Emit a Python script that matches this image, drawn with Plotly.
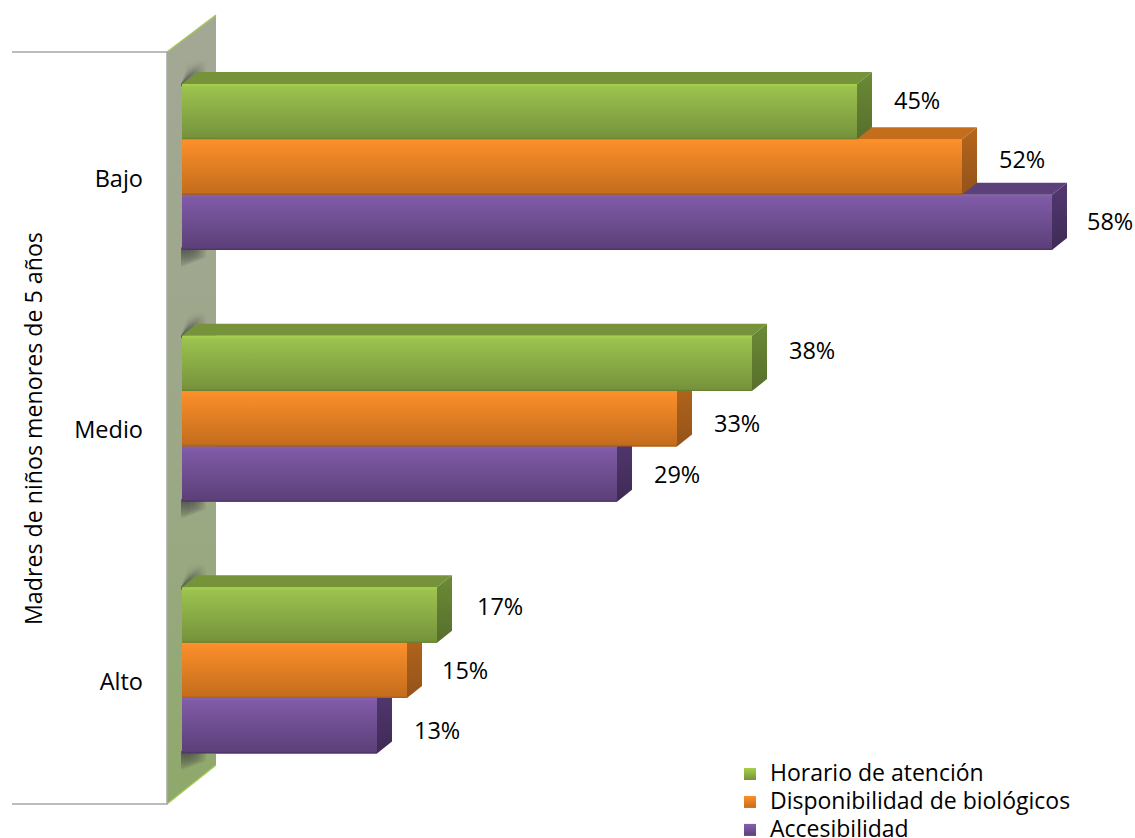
import plotly.graph_objects as go

categories = ["Bajo", "Medio", "Alto"]
series_names = ["Horario de atención", "Disponibilidad de biológicos", "Accesibilidad"]
horario = [45, 38, 17]
disponibilidad = [52, 33, 15]
accesibilidad = [58, 29, 13]
axis_title = "Madres de niños menores de 5 años"

W, H = 1135, 838
OFF = 0  # body margin removed below, so the figure fills the window
PX_PER_X = 15.0
X0_PX = 182.0
PX_PER_Y = 251.7
Y0_PX = 167.0
FONT = "Open Sans"
FS = 23.5


def xd(p):
    return (p - X0_PX) / PX_PER_X


def yd(p):
    return (p - Y0_PX) / PX_PER_Y


def xp(p):
    return (p - OFF) / (W - OFF)


def yp(p):
    return 1 - (p - OFF) / (H - OFF)


BAR_H = 0.22
DX = 15 / PX_PER_X
DY = 12 / PX_PER_Y
styles = [
    dict(front=[[0, "#a9d44e"], [0.06, "#9cc24f"], [0.96, "#76933c"], [1, "#637f30"]], top="#76933c",
         side=["#6c8a36", "#566f2c"], swatch=["#76933c", "#a6d04c"]),
    dict(front=[[0, "#ff9228"], [0.06, "#f98e2a"], [0.96, "#c46d1d"], [1, "#a85a15"]], top="#c46d1d",
         side=["#b5661c", "#94531a"], swatch=["#c46d1d", "#ff9028"]),
    dict(front=[[0, "#8762b0"], [0.06, "#7f5aa6"], [0.96, "#5c4079"], [1, "#4a3063"]], top="#5c4079",
         side=["#523870", "#3f2b55"], swatch=["#5c4079", "#8560ad"]),
]
all_series = [horario, disponibilidad, accesibilidad]

fig = go.Figure()

# real bars (the data marks)
pos = list(range(len(categories)))
for name, vals, st in zip(series_names, all_series, styles):
    fig.add_trace(go.Bar(name=name, y=pos, x=vals, orientation="h", marker=dict(color=st["front"][2][1], line_width=0),
                         showlegend=False, hoverinfo="x+name"))


def poly(xs, ys, color=None, grad=None, gtype="vertical"):
    kw = dict(x=xs + xs[:1], y=ys + ys[:1], mode="lines", fill="toself", hoverinfo="skip", showlegend=False,
              line=dict(width=0))
    if grad:
        if isinstance(grad[0], str):
            n = len(grad) - 1
            grad = [[i / n, c] for i, c in enumerate(grad)]
        # the fill gradient runs upward on screen, so flip it: first colour = top
        kw["fillgradient"] = dict(type=gtype, colorscale=[[1 - p, c] for p, c in reversed(grad)])
    else:
        kw["fillcolor"] = color
    fig.add_trace(go.Scatter(**kw))


# wall
poly([xd(167), xd(216), xd(216), xd(167)], [yd(52), yd(15), yd(765), yd(804)],
     grad=["#a3a895", "#9fa78e", "#9aa882", "#8fa86a"])
# wall edges
for y1, y2 in [(52, 15), (804, 765)]:
    fig.add_trace(go.Scatter(x=[xd(167), xd(216)], y=[yd(y1), yd(y2)], mode="lines", hoverinfo="skip", showlegend=False,
                             line=dict(color="#a6c95c", width=1.5)))
# floor lines and axis line
fig.add_trace(go.Scatter(x=[xd(12), xd(167), xd(167), xd(12)], y=[yd(52), yd(52), yd(804), yd(804)], mode="lines",
                         hoverinfo="skip", showlegend=False, line=dict(color="#a6a6a6", width=1.5)))

# soft bar shadow on the wall (nested layers fade the sides)
for c in pos:
    top = c - 1.5 * BAR_H - DY
    bot = c + 1.5 * BAR_H
    for b in [206, 204, 202, 200, 198, 196, 193, 190]:
        poly([xd(181), xd(b), xd(b), xd(181)], [top + DY, top - 0.055, top + 0.01, top + DY + 0.01],
             grad=["rgba(60,60,60,0)", "rgba(60,60,60,0.15)"])
        poly([xd(181), xd(b), xd(b), xd(181)], [bot - 0.01, bot - 0.01, bot + 0.03, bot + 0.07],
             grad=["rgba(60,60,60,0.15)", "rgba(60,60,60,0)"])

# extruded bars: back group member first so nearer faces cover it
for c in pos:
    for i in [2, 1, 0]:
        v = all_series[i][c]
        st = styles[i]
        y_t = c + (i - 1.5) * BAR_H
        y_b = y_t + BAR_H
        poly([0, DX, v + DX, v], [y_t, y_t - DY, y_t - DY, y_t], color=st["top"])
        poly([v, v + DX, v + DX, v], [y_t, y_t - DY, y_b - DY, y_b], grad=st["side"])
        poly([0, v, v, 0], [y_t, y_t, y_b, y_b], grad=st["front"])

# legend entries
for name, st in zip(series_names, styles):
    fig.add_trace(go.Scatter(x=[None], y=[None], mode="markers",
                             name=f'<span style="font-size:23px">{name}</span>',
                             marker=dict(symbol="square", size=16, color=st["swatch"][1],
                                         gradient=dict(type="vertical", color=st["swatch"][0]))))

# value labels
label_nudge = [[12, 8, 1], [13, -4, 0], [9, 0, -4]]
x_nudge = [[0, 0, -2], [0, 0, 0], [3, -2, 0]]
annotations = []
for i in range(3):
    for c in pos:
        v = all_series[i][c]
        annotations.append(dict(x=v + 4, y=c + (i - 1) * BAR_H, text=f"{v}%", showarrow=False, xanchor="center",
                                yanchor="middle", yshift=label_nudge[c][i], xshift=x_nudge[c][i],
                                font=dict(family=FONT, size=FS, color="#000")))
annotations.append(dict(x=xp(33), y=yp(429), xref="paper", yref="paper", text=axis_title, textangle=-90, showarrow=False,
                        xanchor="center", yanchor="middle", font=dict(family=FONT, size=23.2, color="#000")))

fig.update_layout(
    width=W - OFF, height=H - OFF, margin=dict(l=0, r=0, t=0, b=0, autoexpand=False),
    paper_bgcolor="white", plot_bgcolor="white",
    barmode="group", bargap=0.34, bargroupgap=0,
    font=dict(family=FONT, size=FS, color="#000"),
    xaxis=dict(range=[xd(OFF), xd(W)], visible=False, fixedrange=True),
    yaxis=dict(range=[yd(H), yd(OFF)], showgrid=False, zeroline=False, showline=False, anchor="free",
               position=xp(143), tickmode="array", tickvals=[c + 0.045 for c in pos], ticktext=categories,
               ticks="", tickfont=dict(family=FONT, size=FS, color="#000"), fixedrange=True),
    legend=dict(x=xp(730), y=yp(755), xanchor="left", yanchor="top", bgcolor="rgba(0,0,0,0)",
                font=dict(family=FONT, size=19.2, color="#000"), itemsizing="constant", tracegroupgap=0),
    annotations=annotations,
)
fig.write_html("out.html", config={"displayModeBar": False},
               post_script="document.body.style.margin='0';document.body.style.overflow='hidden';")
